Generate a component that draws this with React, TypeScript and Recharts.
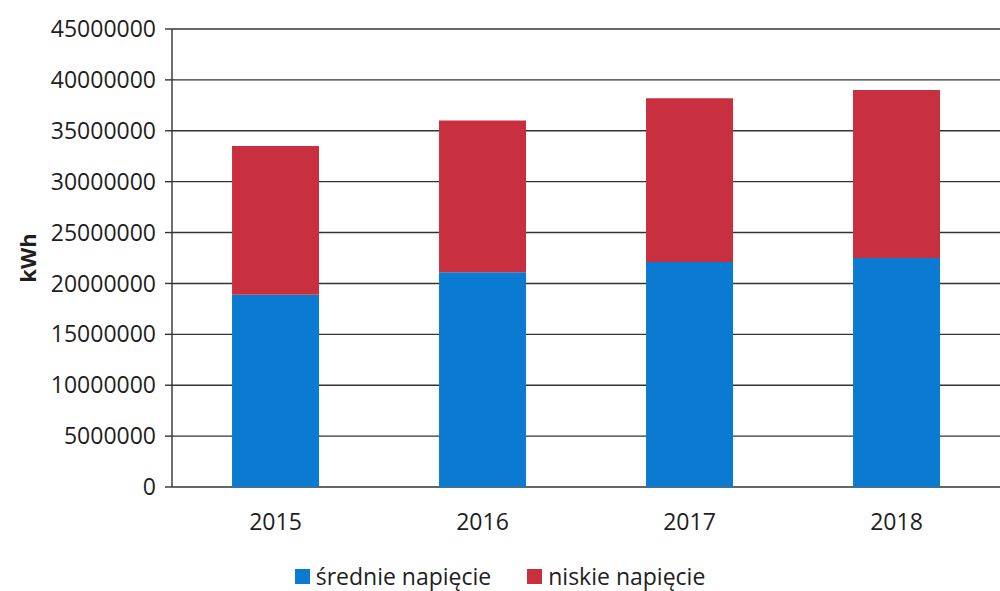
import React from 'react';
import { BarChart, Bar, XAxis, YAxis, CartesianGrid, Legend, Label } from 'recharts';

const categories = ['2015', '2016', '2017', '2018'];
const sredniValues = [18900000, 21100000, 22100000, 22500000];
const niskieValues = [14600000, 14900000, 16100000, 16500000];
const yTicks = [0, 5000000, 10000000, 15000000, 20000000, 25000000, 30000000, 35000000, 40000000, 45000000];
const edgeTicks = [0, 1, 2, 3, 4];

const seriesNames = { srednie: 'średnie napięcie', niskie: 'niskie napięcie' };
const BLUE = '#0a7bd0';
const RED = '#c9303f';
const FONT = '"Open Sans", "Noto Sans", sans-serif';
const TEXT = '#1e1e1e';
const LINE = '#333333';

const data = categories.map((c, i) => ({
  year: c,
  srednie: sredniValues[i],
  niskie: niskieValues[i],
}));

const LegendContent = () => (
  <div
    style={{
      display: 'flex',
      justifyContent: 'center',
      alignItems: 'center',
      gap: 36,
      fontFamily: FONT,
      fontSize: 23,
      lineHeight: '24px',
      color: TEXT,
      height: 26,
      paddingTop: 6,
      paddingBottom: 2,
      boxSizing: 'content-box',
    }}
  >
    {[
      { name: seriesNames.srednie, color: BLUE },
      { name: seriesNames.niskie, color: RED },
    ].map((it) => (
      <div key={it.name} style={{ display: 'flex', alignItems: 'center', gap: 6 }}>
        <span style={{ width: 15, height: 15, background: it.color, display: 'inline-block' }} />
        <span>{it.name}</span>
      </div>
    ))}
  </div>
);

export default function App() {
  return (
    <div style={{ position: 'absolute', left: 0, top: 0, width: 1000, height: 591, background: '#fff' }}>
      <BarChart
        width={1000}
        height={591}
        data={data}
        margin={{ top: 29, right: 0, bottom: 0, left: 0 }}
        barCategoryGap="29%"
      >
        <CartesianGrid vertical={false} stroke={LINE} strokeWidth={1.4} />
        <XAxis
          xAxisId="edges"
          type="number"
          domain={[0, 4]}
          ticks={edgeTicks}
          tick={false}
          tickSize={9}
          height={0}
          axisLine={{ stroke: LINE, strokeWidth: 1.4 }}
          tickLine={{ stroke: LINE, strokeWidth: 1.4 }}
          allowDataOverflow
        />
        <XAxis
          dataKey="year"
          xAxisId="cat"
          axisLine={false}
          tickLine={false}
          tickSize={8}
          tickMargin={19}
          height={70}
          tick={{ fill: TEXT, fontSize: 23, fontFamily: FONT }}
        />
        <YAxis
          width={172}
          domain={[0, 45000000]}
          ticks={yTicks}
          interval={0}
          tickSize={7}
          tickMargin={9}
          axisLine={{ stroke: LINE, strokeWidth: 1.4 }}
          tickLine={{ stroke: LINE, strokeWidth: 1.4 }}
          tick={{ fill: TEXT, fontSize: 23, fontFamily: FONT }}
        >
          <Label
            content={({ viewBox }: any) => {
              const cx = viewBox.x + 27;
              const cy = viewBox.y + viewBox.height / 2;
              return (
                <text
                  x={cx}
                  y={cy}
                  transform={`rotate(-90 ${cx} ${cy})`}
                  textAnchor="middle"
                  dominantBaseline="central"
                  fontFamily={FONT}
                  fontSize={22}
                  fontWeight="bold"
                  fill={TEXT}
                >
                  kWh
                </text>
              );
            }}
          />
        </YAxis>
        <Legend
          verticalAlign="bottom"
          content={<LegendContent />}
          wrapperStyle={{ left: 0, width: 1000, bottom: 0 }}
        />
        <Bar dataKey="srednie" name={seriesNames.srednie} stackId="a" xAxisId="cat" fill={BLUE} isAnimationActive={false} />
        <Bar dataKey="niskie" name={seriesNames.niskie} stackId="a" xAxisId="cat" fill={RED} isAnimationActive={false} />
      </BarChart>
    </div>
  );
}
